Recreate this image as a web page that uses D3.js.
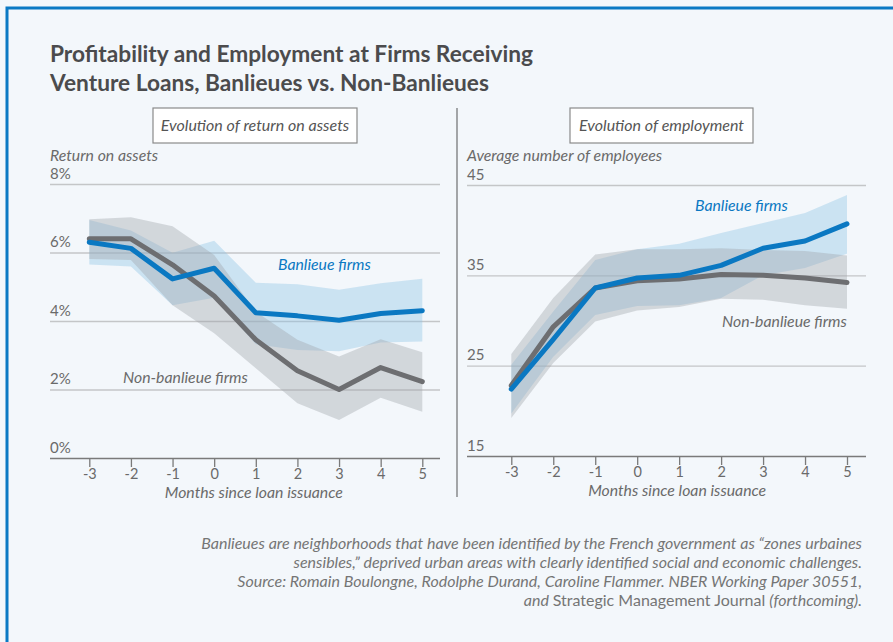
<!DOCTYPE html>
<html>
<head>
<meta charset="utf-8">
<script src="https://cdn.jsdelivr.net/npm/d3@7"></script>
<style>
  body { margin: 0; background: #f3f7fb; }
  svg text { font-family: "Source Sans Pro", Lato, "Open Sans", sans-serif; }
</style>
</head>
<body>
<div id="chart"></div>
<script>
const width = 893;
const height = 642;

// months since loan issuance
const months = [-3, -2, -1, 0, 1, 2, 3, 4, 5];

// return on assets (%)
const roaBanlieue = [6.3, 6.12, 5.23, 5.54, 4.24, 4.15, 4.02, 4.22, 4.3];
const roaBanlieueHi = [6.95, 6.64, 5.99, 6.34, 5.12, 5.07, 4.91, 5.1, 5.23];
const roaBanlieueLo = [5.65, 5.59, 4.46, 4.68, 3.32, 3.15, 3.12, 3.37, 3.4];
const roaOther = [6.4, 6.4, 5.64, 4.73, 3.45, 2.55, 2.0, 2.64, 2.23];
const roaOtherHi = [6.97, 7.03, 6.77, 5.93, 4.27, 3.45, 2.96, 3.47, 3.09];
const roaOtherLo = [5.81, 5.78, 4.46, 3.64, 2.62, 1.6, 1.11, 1.76, 1.35];
const roaTicks = [0, 2, 4, 6, 8];

// average number of employees
const empBanlieue = [22.4, 27.9, 33.6, 34.7, 35.0, 36.1, 38.0, 38.8, 40.7];
const empBanlieueHi = [25.1, 31.0, 36.7, 37.9, 38.5, 39.7, 40.8, 41.9, 43.9];
const empBanlieueLo = [19.7, 26.0, 30.6, 31.6, 31.7, 32.5, 35.0, 35.8, 37.4];
const empOther = [22.8, 29.3, 33.6, 34.4, 34.6, 35.1, 35.0, 34.7, 34.2];
const empOtherHi = [26.3, 32.5, 37.3, 37.9, 37.9, 38.0, 37.8, 37.7, 37.2];
const empOtherLo = [19.2, 25.3, 29.9, 31.1, 31.5, 32.4, 32.3, 31.7, 31.3];
const empTicks = [15, 25, 35, 45];

const blue = "#0a78c2";
const grey = "#6d6e71";
const textGrey = "#6a6a6a";
const labelSize = 15.8;

const svg = d3.select("#chart")
  .append("svg")
  .attr("width", width)
  .attr("height", height);

svg.append("rect").attr("width", width).attr("height", height).attr("fill", "#f3f7fb");

// frame (left and top blue border)
svg.append("path")
  .attr("d", `M7,${height} V8 H${width}`)
  .attr("fill", "none")
  .attr("stroke", "#0b79c4")
  .attr("stroke-width", 3);

// title
svg.append("text")
  .attr("x", 50).attr("y", 62)
  .attr("font-size", 22.7).attr("font-weight", 700).attr("fill", "#4b4b4d")
  .selectAll("tspan")
  .data(["Profitability and Employment at Firms Receiving", "Venture Loans, Banlieues vs. Non-Banlieues"])
  .join("tspan")
  .attr("x", 50)
  .attr("dy", (d, i) => i ? 29 : 0)
  .text(d => d);

// divider
svg.append("line")
  .attr("x1", 457).attr("x2", 457).attr("y1", 108).attr("y2", 497)
  .attr("stroke", "#6d6e71").attr("stroke-width", 1.2);

function panel(opts) {
  const g = svg.append("g");
  const x = d3.scaleLinear().domain([-3, 5]).range(opts.xRange);
  const y = d3.scaleLinear().domain(opts.yDomain).range(opts.yRange);

  // panel title box
  const box = g.append("g");
  box.append("rect")
    .attr("x", opts.box[0]).attr("y", 108)
    .attr("width", opts.box[1] - opts.box[0]).attr("height", 35)
    .attr("fill", "#fff").attr("stroke", "#8a8a8a").attr("stroke-width", 1.2);
  box.append("text")
    .attr("x", (opts.box[0] + opts.box[1]) / 2).attr("y", 131)
    .attr("text-anchor", "middle").attr("font-size", 16).attr("font-style", "italic")
    .attr("fill", "#555").text(opts.boxTitle);

  // y axis label
  g.append("text")
    .attr("x", opts.gridX[0]).attr("y", 161)
    .attr("font-size", labelSize).attr("font-style", "italic").attr("fill", textGrey)
    .text(opts.yLabel);

  // gridlines + tick labels
  const yAxis = d3.axisRight(y).tickValues(opts.ticks)
    .tickSize(opts.gridX[1] - opts.gridX[0])
    .tickFormat(opts.fmt);
  const ya = g.append("g").attr("transform", `translate(${opts.gridX[0]},0)`).call(yAxis);
  ya.select(".domain").remove();
  ya.selectAll(".tick line").attr("stroke", d => d === opts.yDomain[0] ? "#7a7a7a" : "#c4c6c8").attr("stroke-width", 1.3);
  ya.selectAll(".tick text")
    .attr("x", 0).attr("dy", -6).attr("text-anchor", "start")
    .attr("font-size", 15).attr("fill", textGrey);

  // x axis
  const xAxis = d3.axisBottom(x).tickValues(months).tickSize(9).tickPadding(2)
    .tickFormat(d => String(d));
  const xa = g.append("g").attr("transform", `translate(0,${y(opts.yDomain[0])})`).call(xAxis);
  xa.select(".domain").remove();
  xa.selectAll(".tick line").attr("stroke", "#7a7a7a").attr("stroke-width", 1.3);
  xa.selectAll(".tick text").attr("font-size", 14.5).attr("fill", textGrey);
  g.append("text")
    .attr("x", (opts.xRange[0] + opts.xRange[1]) / 2 - 2).attr("y", y(opts.yDomain[0]) + 40)
    .attr("text-anchor", "middle").attr("font-size", labelSize).attr("font-style", "italic").attr("fill", textGrey)
    .text("Months since loan issuance");

  const area = (lo, hi) => d3.area()
    .x((d, i) => x(months[i]))
    .y0((d, i) => y(lo[i]))
    .y1((d, i) => y(hi[i]))(months);
  const line = vals => d3.line()
    .x((d, i) => x(months[i]))
    .y(d => y(d))(vals);

  g.append("path").attr("d", area(opts.bLo, opts.bHi)).attr("fill", "#8cc2e6").attr("fill-opacity", 0.38);
  g.append("path").attr("d", area(opts.oLo, opts.oHi)).attr("fill", "#9ea3a8").attr("fill-opacity", 0.38);

  g.append("path").attr("d", line(opts.o)).attr("fill", "none")
    .attr("stroke", grey).attr("stroke-width", 5).attr("stroke-linejoin", "round").attr("stroke-linecap", "round");
  g.append("path").attr("d", line(opts.b)).attr("fill", "none")
    .attr("stroke", blue).attr("stroke-width", 5).attr("stroke-linejoin", "round").attr("stroke-linecap", "round");

  g.append("text")
    .attr("x", opts.bLabel[0]).attr("y", opts.bLabel[1])
    .attr("font-size", labelSize).attr("font-style", "italic").attr("fill", blue)
    .text("Banlieue firms");
  g.append("text")
    .attr("x", opts.oLabel[0]).attr("y", opts.oLabel[1])
    .attr("font-size", labelSize).attr("font-style", "italic").attr("fill", textGrey)
    .text("Non-banlieue firms");
}

panel({
  xRange: [89.3, 422.3], yDomain: [0, 8], yRange: [458, 184],
  gridX: [50, 440], ticks: roaTicks, fmt: d => d + "%",
  box: [153, 357], boxTitle: "Evolution of return on assets",
  yLabel: "Return on assets",
  b: roaBanlieue, bHi: roaBanlieueHi, bLo: roaBanlieueLo,
  o: roaOther, oHi: roaOtherHi, oLo: roaOtherLo,
  bLabel: [278, 270], oLabel: [123, 383]
});

panel({
  xRange: [511.3, 847], yDomain: [15, 45], yRange: [456, 185],
  gridX: [467, 866], ticks: empTicks, fmt: d3.format("d"),
  box: [570, 753], boxTitle: "Evolution of employment",
  yLabel: "Average number of employees",
  b: empBanlieue, bHi: empBanlieueHi, bLo: empBanlieueLo,
  o: empOther, oHi: empOtherHi, oLo: empOtherLo,
  bLabel: [695, 211], oLabel: [722, 327]
});

// footnote
const noteSize = 16;
const note = svg.append("text")
  .attr("text-anchor", "end").attr("font-size", noteSize).attr("fill", "#757575").attr("font-style", "italic");
const noteLines = [
  "Banlieues are neighborhoods that have been identified by the French government as \u201czones urbaines",
  "sensibles,\u201d deprived urban areas with clearly identified social and economic challenges.",
  "Source: Romain Boulongne, Rodolphe Durand, Caroline Flammer. NBER Working Paper 30551,"
];
noteLines.forEach((t, i) => {
  note.append("tspan").attr("x", 862).attr("y", 549 + i * 19).text(t);
});
const last = svg.append("text")
  .attr("x", 862).attr("y", 606)
  .attr("text-anchor", "end").attr("font-size", noteSize).attr("fill", "#757575");
last.append("tspan").attr("font-style", "italic").text("and ");
last.append("tspan").text("Strategic Management Journal ");
last.append("tspan").attr("font-style", "italic").text("(forthcoming).");
</script>
</body>
</html>
